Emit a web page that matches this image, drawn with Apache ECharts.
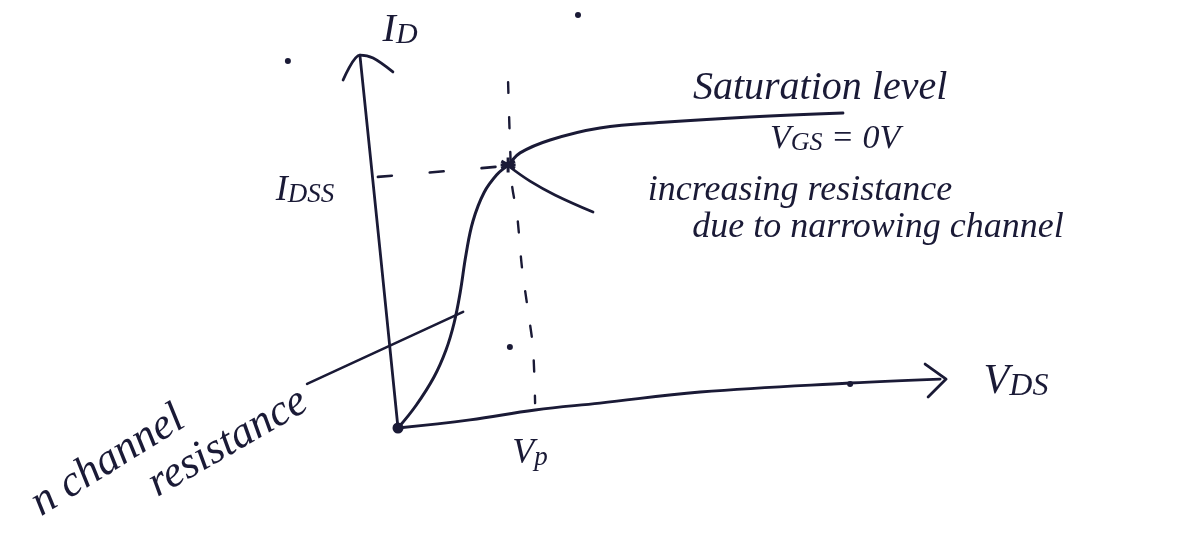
<!DOCTYPE html>
<html>
<head>
<meta charset="utf-8">
<title>JFET drain characteristic</title>
<script src="https://cdn.jsdelivr.net/npm/echarts/dist/echarts.min.js"></script>
<style>
  html, body { margin: 0; padding: 0; background: #ffffff; }
  #chart { width: 1183px; height: 540px; }
</style>
</head>
<body>
<div id="chart"></div>
<script>
// Sketch of an n-channel JFET drain characteristic (VGS = 0 V).
// All points are in VDS (V) / ID (mA) units of the plotting grid.

// Hand-drawn axes
const idAxisStroke   = [[0, 0], [-0.6, 5.93], [-1.27, 12.43]];
const idArrowHead    = [[-1.83, 11.6], [-1.27, 12.43], [-0.83, 12.33], [-0.17, 11.87]];
const vdsAxisStroke  = [[0, 0], [2.4, 0.27], [4.57, 0.6], [6.73, 0.83], [10.07, 1.2], [15.07, 1.5], [18.07, 1.63]];
const vdsArrowHead   = [[17.57, 2.13], [18.27, 1.63], [17.67, 1.03]];

// ID versus VDS
const drainCurve = [
  [0, 0], [0.6, 0.75], [1.2, 1.7], [1.6, 2.6], [1.87, 3.5], [2.07, 4.5],
  [2.27, 5.8], [2.5, 6.9], [2.87, 7.85], [3.3, 8.45], [3.67, 8.77], [4.07, 9.17],
  [5.07, 9.6], [6.73, 10.0], [8.97, 10.2], [11.73, 10.37], [14.83, 10.5]
];

// Pinch-off point and its guide lines
const pinchOff  = [[3.67, 8.77]];
const idssGuide = [[-0.67, 8.37], [3.57, 8.73]];
const vpGuide   = [[3.67, 11.53], [3.73, 9.6], [3.8, 8.1], [3.97, 7.1], [4.13, 5.37], [4.33, 3.93], [4.5, 2.67], [4.57, 0.83]];

// Leader lines to the notes
const saturationPointer = [[3.73, 8.7], [4.4, 8.23], [5.23, 7.77], [6.5, 7.2]];
const ohmicPointer      = [[2.17, 3.87], [-3.03, 1.47]];

// Pen dots
const originDot = [[0, 0]];
const penDots   = [[3.73, 2.7], [15.07, 1.47], [6, 13.77], [-3.67, 12.23]];

// Notes: text and anchor
const noteTexts = [
  '{m|I}{s|D}',
  '{m|I}{s|DSS}',
  'Saturation level',
  '{m|V}{s|GS}{m| = 0V}',
  'increasing resistance',
  'due to narrowing channel',
  'n channel',
  'resistance',
  '{m|V}{s|DS}',
  '{m|V}{s|p}'
];
const noteAnchors = [
  [0.07, 13.1], [-3.1, 7.77], [14.07, 11.33], [14.57, 9.5], [13.4, 7.93],
  [16.0, 6.67], [-9.67, -1.1], [-5.67, -0.5], [20.6, 1.37], [4.4, -1.0]
];
const noteAngles = [0, 0, 0, 0, 0, 0, 32, 30, 0, 0];
const noteSizes  = [40, 36, 40, 34, 36, 36, 44, 44, 42, 36];

const INK  = '#1a1a36';
const FONT = "'Liberation Serif', 'DejaVu Serif', serif";

function stroke(data, opts) {
  opts = opts || {};
  return {
    type: 'line',
    data: data,
    symbol: 'none',
    smooth: opts.smooth === undefined ? 0.35 : opts.smooth,
    silent: true,
    animation: false,
    lineStyle: {
      color: INK,
      width: opts.width || 2.8,
      type: opts.dash || 'solid',
      cap: 'round',
      join: 'round'
    },
    z: 2
  };
}

function note(i) {
  const size = noteSizes[i];
  const base = { fontFamily: FONT, fontStyle: 'italic', color: INK };
  return {
    type: 'scatter',
    data: [noteAnchors[i]],
    symbolSize: 1,
    silent: true,
    animation: false,
    itemStyle: { color: 'transparent', opacity: 1 },
    label: Object.assign({
      show: true,
      position: 'inside',
      rotate: noteAngles[i],
      align: 'center',
      verticalAlign: 'middle',
      formatter: noteTexts[i],
      fontSize: size,
      rich: {
        m: Object.assign({ fontSize: size, padding: [0, 0, Math.round(size * 0.22), 0] }, base),
        s: Object.assign({ fontSize: Math.round(size * 0.75) }, base)
      }
    }, base),
    z: 3
  };
}

const series = [
  stroke(idAxisStroke, { smooth: 0.2 }),
  stroke(idArrowHead, { smooth: 0.3 }),
  stroke(vdsAxisStroke, { smooth: 0.4 }),
  stroke(vdsArrowHead, { smooth: 0 }),
  stroke(drainCurve, { smooth: 0.4, width: 3 }),
  stroke(idssGuide, { smooth: 0, dash: [14, 38], width: 2.6 }),
  stroke(vpGuide, { smooth: 0.3, dash: [11, 24], width: 2.4 }),
  stroke(saturationPointer, { smooth: 0.4 }),
  stroke(ohmicPointer, { smooth: 0, width: 2.6 }),
  {
    type: 'scatter', data: pinchOff, silent: true, animation: false,
    symbol: 'path://M0,-10L0,10M-9,-5L9,5M-9,5L9,-5M-10,0L10,0',
    symbolSize: 15,
    itemStyle: { color: 'transparent', borderColor: INK, borderWidth: 3, opacity: 1 },
    z: 4
  },
  {
    type: 'scatter', data: originDot, silent: true, animation: false,
    symbolSize: 11, itemStyle: { color: INK, opacity: 1 }, z: 4
  },
  {
    type: 'scatter', data: penDots, silent: true, animation: false,
    symbolSize: 6, itemStyle: { color: INK, opacity: 1 }, z: 4
  }
];
for (let i = 0; i < noteTexts.length; i++) series.push(note(i));

const chart = echarts.init(document.getElementById('chart'), null, { renderer: 'canvas' });
chart.setOption({
  backgroundColor: '#ffffff',
  animation: false,
  grid: { left: 8, top: 8, width: 1170, height: 510 },
  xAxis: { type: 'value', min: -13, max: 26, show: false },
  yAxis: { type: 'value', min: -3, max: 14, show: false },
  series: series
});
</script>
</body>
</html>
